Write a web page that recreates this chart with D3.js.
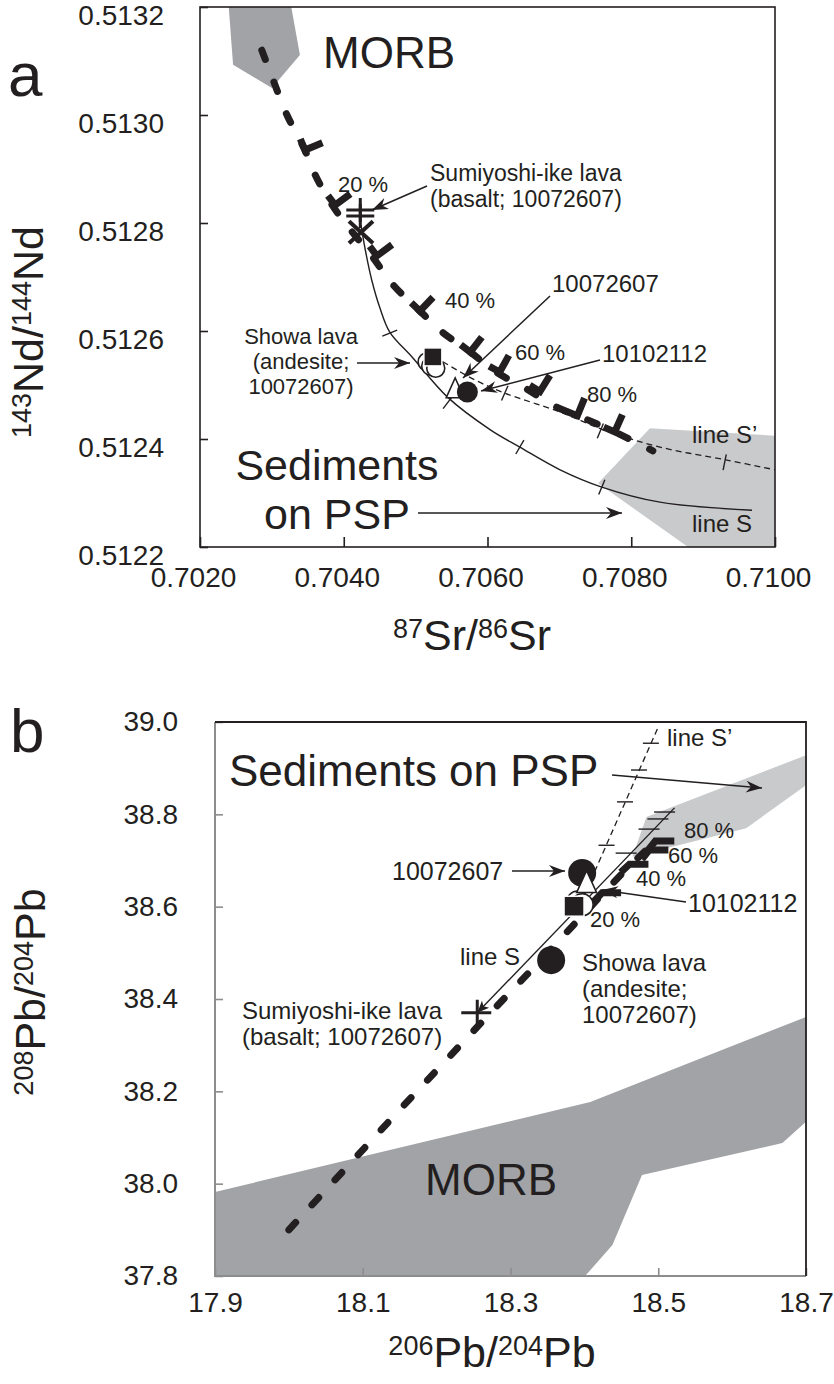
<!DOCTYPE html>
<html>
<head>
<meta charset="utf-8">
<script src="https://cdn.jsdelivr.net/npm/d3@7"></script>
<style>
  body { margin: 0; background: #fff; }
  text { font-family: "Liberation Sans", Arial, sans-serif; fill: #231f20; }
</style>
</head>
<body>
<svg id="fig" width="834" height="1384"></svg>
<script>
// ---------- panel a : 87Sr/86Sr vs 143Nd/144Nd ----------
const srTicks = [0.7020, 0.7040, 0.7060, 0.7080, 0.7100];
const ndTicks = [0.5122, 0.5124, 0.5126, 0.5128, 0.5130, 0.5132];

const morbA = [[0.70240, 0.51320], [0.70327, 0.51320], [0.70339, 0.513111], [0.70300, 0.51305], [0.70246, 0.513093]];
const sedA = [[0.70754, 0.512318], [0.70826, 0.51242], [0.71000, 0.512406], [0.71000, 0.51220], [0.70879, 0.51220]];

// thick dashed mixing curve and its 10 % marks
const heavyA = [[0.70286, 0.513120], [0.70304, 0.513057], [0.70321, 0.513000], [0.70346, 0.512935], [0.70361, 0.512887],
  [0.70384, 0.512833], [0.70412, 0.512783], [0.70439, 0.512739], [0.70469, 0.512685], [0.70503, 0.512641],
  [0.70537, 0.512598], [0.70576, 0.512561], [0.70612, 0.512524], [0.70654, 0.512493], [0.70693, 0.512461],
  [0.70726, 0.512443], [0.70777, 0.512413], [0.70830, 0.512378]];
const markPctA = [10, 20, 30, 40, 50, 60, 70, 80, 90];
const markSrA = [0.70346, 0.70388, 0.70446, 0.70506, 0.70576, 0.70617, 0.70673, 0.70725, 0.70777];
const markNdA = [0.512935, 0.512833, 0.512739, 0.512637, 0.512561, 0.512524, 0.512488, 0.512443, 0.512413];

// line S (solid) and line S' (dashed)
const lineSA = [[0.70424, 0.512796], [0.70430, 0.512750], [0.70439, 0.512694], [0.70450, 0.512644], [0.70464, 0.512598],
  [0.70495, 0.512552], [0.70544, 0.512478], [0.70604, 0.512417], [0.70645, 0.512385], [0.70701, 0.512343],
  [0.70759, 0.512311], [0.70840, 0.512283], [0.70968, 0.512268]];
const lineSTickA = [[0.70464, 0.512596], [0.70545, 0.512468], [0.70645, 0.512385], [0.70759, 0.512311]];
const lineSpA = [[0.70538, 0.512543], [0.70583, 0.512509], [0.70624, 0.512485], [0.70701, 0.512450], [0.70761, 0.512417],
  [0.70840, 0.512385], [0.70933, 0.512361], [0.71000, 0.512343]];
const lineSpTickA = [[0.70624, 0.512485], [0.70757, 0.512415], [0.70930, 0.512357]];

// samples
const sumiPlusA = [[0.70423, 0.512824], [0.70423, 0.512813]];
const sumiCrossA = [[0.70424, 0.512783]];
const showaOpenA = [[0.70516, 0.512543], [0.70521, 0.512535], [0.70528, 0.512531]];
const showaSquareA = [[0.70524, 0.512552]];
const triA = [[0.70555, 0.512491]];
const dotA = [[0.70572, 0.512487]];

// ---------- panel b : 206Pb/204Pb vs 208Pb/204Pb ----------
const pb6Ticks = [17.9, 18.1, 18.3, 18.5, 18.7];
const pb8Ticks = [37.8, 38.0, 38.2, 38.4, 38.6, 38.8, 39.0];

const morbB = [[17.9, 37.982], [18.408, 38.177], [18.611, 38.305], [18.7, 38.361], [18.7, 38.134], [18.668, 38.088],
  [18.478, 38.019], [18.438, 37.867], [18.401, 37.8], [17.9, 37.8]];
const sedB = [[18.484, 38.794], [18.7, 38.928], [18.7, 38.863], [18.619, 38.770], [18.465, 38.708]];

const heavyB = [[18.000, 37.900], [18.150, 38.160], [18.274, 38.372], [18.335, 38.474], [18.426, 38.630],
  [18.462, 38.690], [18.484, 38.723], [18.497, 38.749]];
const markPctB = [20, 40, 60, 80];
const markPb6B = [18.424, 18.461, 18.488, 18.496];
const markPb8B = [38.630, 38.692, 38.723, 38.742];

const lineSB = [[18.255, 38.370], [18.522, 38.814]];
const lineSTickB = [[18.516, 38.805], [18.507, 38.790], [18.495, 38.768], [18.464, 38.716]];
const lineSpB = [[18.403, 38.636], [18.501, 38.993]];
const lineSpTickB = [[18.430, 38.733], [18.455, 38.827], [18.474, 38.896], [18.490, 38.954]];

const sumiPlusB = [[18.255, 38.370]];
const showaDotB = [[18.355, 38.484]];
const dotB = [[18.397, 38.673]];
const openB = [[18.391, 38.610], [18.397, 38.604]];
const squareB = [[18.386, 38.601]];
const triB = [[18.403, 38.650]];

// ---------- drawing ----------
const ink = '#231f20';
const svg = d3.select('#fig');
const defs = svg.append('defs');
defs.append('marker').attr('id', 'head')
  .attr('viewBox', '-17 -7 18 14').attr('markerWidth', 18).attr('markerHeight', 14)
  .attr('markerUnits', 'userSpaceOnUse').attr('refX', 0).attr('refY', 0).attr('orient', 'auto')
  .append('path').attr('d', 'M0,0L-16,-6L-11,0L-16,6Z').attr('fill', ink);
defs.append('marker').attr('id', 'headStart')
  .attr('viewBox', '-17 -7 18 14').attr('markerWidth', 18).attr('markerHeight', 14)
  .attr('markerUnits', 'userSpaceOnUse').attr('refX', 0).attr('refY', 0).attr('orient', 'auto-start-reverse')
  .append('path').attr('d', 'M0,0L-12,-5L-9,0L-12,5Z').attr('fill', ink);

function label(g, x, y, lines, size, anchor, lh) {
  lines.forEach((t, i) => g.append('text').attr('x', x).attr('y', y + i * (lh || size)).attr('font-size', size)
    .attr('text-anchor', anchor || 'start').text(t));
}
function arrow(g, x1, y1, x2, y2) {
  g.append('line').attr('x1', x1).attr('y1', y1).attr('x2', x2).attr('y2', y2)
    .attr('stroke', ink).attr('stroke-width', 1.5).attr('marker-end', 'url(#head)');
}
// axis title with superscript mass numbers
function isoTitle(g, x, y, parts, rot) {
  const t = g.append('text').attr('text-anchor', 'middle').attr('font-size', 43)
    .attr('transform', `translate(${x},${y})` + (rot ? ' rotate(-90)' : ''));
  let up = false;
  parts.forEach(p => {
    const sup = /^\d+$/.test(p);
    const s = t.append('tspan').text(p);
    if (sup) { s.attr('font-size', 27); if (!up) s.attr('dy', -12); up = true; }
    else if (up) { s.attr('dy', 12); up = false; }
  });
}
function tangentAt(pts, p) {
  let best = null, bd = Infinity;
  for (let i = 0; i < pts.length - 1; i++) {
    const a = pts[i], b = pts[i + 1];
    const mx = (a[0] + b[0]) / 2, my = (a[1] + b[1]) / 2;
    const d = (mx - p[0]) ** 2 + (my - p[1]) ** 2;
    if (d < bd) { bd = d; best = [b[0] - a[0], b[1] - a[1]]; }
  }
  const L = Math.hypot(best[0], best[1]);
  return [best[0] / L, best[1] / L];
}
function crossTicks(g, curvePx, tickPx, len, mode) {
  tickPx.forEach(p => {
    let d;
    if (mode === 'h') d = [[p[0] - len, p[1]], [p[0] + 5, p[1]]];
    else if (mode === 'hc') d = [[p[0] - len / 2, p[1]], [p[0] + len / 2, p[1]]];
    else {
      const t = tangentAt(curvePx, p), n = [t[1], -t[0]];
      d = [[p[0] - n[0] * len / 2, p[1] - n[1] * len / 2], [p[0] + n[0] * len / 2, p[1] + n[1] * len / 2]];
    }
    g.append('path').attr('d', d3.line()(d)).attr('stroke', ink).attr('stroke-width', 1.4);
  });
}
function pctMarks(g, curvePx, marksPx, barDir) {
  marksPx.forEach(p => {
    const t = tangentAt(curvePx, p);
    const n = barDir || [t[1], -t[0]];
    g.append('path').attr('d', `M${p[0] - t[0] * 12},${p[1] - t[1] * 12}L${p[0]},${p[1]}L${p[0] + n[0] * 19},${p[1] + n[1] * 19}`)
      .attr('fill', 'none').attr('stroke', ink).attr('stroke-width', 7).attr('stroke-linejoin', 'miter');
  });
}
function styleAxis(g, color, size) {
  g.select('.domain').remove();
  g.selectAll('line').attr('stroke', color).attr('stroke-width', 1.6);
  g.selectAll('text').attr('font-size', size).attr('fill', ink).attr('font-family', null);
}

// ===== panel a =====
const xA = d3.scaleLinear().domain([0.702, 0.710]).range([200, 775]);
const yA = d3.scaleLinear().domain([0.5122, 0.5132]).range([547, 7]);
const lnA = d3.line().x(d => xA(d[0])).y(d => yA(d[1]));
const pxA = d => [xA(d[0]), yA(d[1])];
defs.append('clipPath').attr('id', 'clipA').append('rect').attr('x', 200).attr('y', 7).attr('width', 575).attr('height', 540);

const gA = svg.append('g');
const pA = gA.append('g').attr('clip-path', 'url(#clipA)');
pA.append('path').attr('d', lnA(morbA) + 'Z').attr('fill', '#a2a3a6');
pA.append('path').attr('d', lnA(sedA) + 'Z').attr('fill', '#c9cacc');

const curveA = d3.line().x(d => xA(d[0])).y(d => yA(d[1])).curve(d3.curveCatmullRom);
pA.append('path').attr('d', curveA(lineSA)).attr('fill', 'none').attr('stroke', ink).attr('stroke-width', 1.4);
crossTicks(pA, lineSA.map(pxA), lineSTickA.map(pxA), 16);
pA.append('path').attr('d', curveA(lineSpA)).attr('fill', 'none').attr('stroke', ink).attr('stroke-width', 1.3)
  .attr('stroke-dasharray', '6,4');
crossTicks(pA, lineSpA.map(pxA), lineSpTickA.map(pxA), 16);

pA.append('path').attr('d', curveA(heavyA)).attr('fill', 'none').attr('stroke', ink).attr('stroke-width', 7)
  .attr('stroke-linecap', 'round').attr('stroke-dasharray', '10,24');
pctMarks(pA, heavyA.map(pxA), markPctA.map((p, i) => pxA([markSrA[i], markNdA[i]])));

// samples a
pA.selectAll('.oa').data(showaOpenA).enter().append('circle').attr('cx', d => xA(d[0])).attr('cy', d => yA(d[1]))
  .attr('r', 9).attr('fill', '#fff').attr('stroke', ink).attr('stroke-width', 1.6);
pA.selectAll('.sa').data(showaSquareA).enter().append('rect').attr('x', d => xA(d[0]) - 9).attr('y', d => yA(d[1]) - 9)
  .attr('width', 18).attr('height', 18).attr('fill', ink).attr('stroke', '#fff').attr('stroke-width', 1.5);
pA.selectAll('.ta').data(triA).enter().append('path')
  .attr('d', d => `M${xA(d[0])},${yA(d[1]) - 12}L${xA(d[0]) + 9},${yA(d[1]) + 8}L${xA(d[0]) - 9},${yA(d[1]) + 8}Z`)
  .attr('fill', '#fff').attr('stroke', ink).attr('stroke-width', 1.5);
pA.selectAll('.da').data(dotA).enter().append('circle').attr('cx', d => xA(d[0])).attr('cy', d => yA(d[1]))
  .attr('r', 10.5).attr('fill', ink);
pA.selectAll('.pa').data(sumiPlusA).enter().append('path')
  .attr('d', d => `M${xA(d[0]) - 14},${yA(d[1])}h28M${xA(d[0])},${yA(d[1]) - 12}v24`)
  .attr('stroke', ink).attr('stroke-width', 3);
pA.selectAll('.xa').data(sumiCrossA).enter().append('path')
  .attr('d', d => `M${xA(d[0]) - 12},${yA(d[1]) - 11}l24,22M${xA(d[0]) + 12},${yA(d[1]) - 11}l-24,22`)
  .attr('stroke', ink).attr('stroke-width', 4);

// axes a
gA.append('g').attr('transform', 'translate(200,0)')
  .call(d3.axisLeft(yA).tickValues(ndTicks).tickSize(-8).tickPadding(36).tickFormat(d3.format('.4f')))
  .call(g => { styleAxis(g, ink, 28); g.selectAll('text').attr('dy', '0.64em'); });
gA.append('g').attr('transform', 'translate(0,547)')
  .call(d3.axisBottom(xA).tickValues(srTicks).tickSize(-10).tickPadding(20).tickFormat(d3.format('.4f')))
  .call(g => { styleAxis(g, ink, 28); g.selectAll('text').attr('dx', -7); });
gA.append('rect').attr('x', 200).attr('y', 7).attr('width', 575).attr('height', 540)
  .attr('fill', 'none').attr('stroke', ink).attr('stroke-width', 1.6);

isoTitle(gA, 472, 650, ['87', 'Sr/', '86', 'Sr']);
isoTitle(gA, 43, 332, ['143', 'Nd/', '144', 'Nd'], true);
label(gA, 8, 96, ['a'], 62);

// annotations a
label(gA, 323, 68, ['MORB'], 44);
label(gA, 430, 181, ['Sumiyoshi-ike lava', '(basalt; 10072607)'], 23, 'start', 26);
arrow(gA, 427, 186, 372, 210);
label(gA, 338, 192, ['20 %'], 22);
label(gA, 445, 308, ['40 %'], 22);
label(gA, 515, 360, ['60 %'], 22);
label(gA, 587, 402, ['80 %'], 22);
label(gA, 552, 292, ['10072607'], 24);
arrow(gA, 550, 296, 463, 378);
label(gA, 602, 362, ['10102112'], 24);
arrow(gA, 600, 360, 481, 391);
label(gA, 301, 344, ['Showa lava', '(andesite;', '10072607)'], 22, 'middle', 25);
arrow(gA, 357, 363, 410, 363);
label(gA, 337, 480, ['Sediments', 'on PSP'], 43, 'middle', 49);
arrow(gA, 418, 513, 622, 513);
label(gA, 692, 443, ['line S\u2019'], 24);
label(gA, 692, 532, ['line S'], 24);

// ===== panel b =====
const xB = d3.scaleLinear().domain([17.9, 18.7]).range([215, 806]);
const yB = d3.scaleLinear().domain([37.8, 39.0]).range([1276, 722]);
const lnB = d3.line().x(d => xB(d[0])).y(d => yB(d[1]));
const pxB = d => [xB(d[0]), yB(d[1])];
defs.append('clipPath').attr('id', 'clipB').append('rect').attr('x', 215).attr('y', 722).attr('width', 591).attr('height', 554);

const gB = svg.append('g');
const pB = gB.append('g').attr('clip-path', 'url(#clipB)');
pB.append('path').attr('d', lnB(morbB) + 'Z').attr('fill', '#a2a3a6');
pB.append('path').attr('d', lnB(sedB) + 'Z').attr('fill', '#c9cacc');

pB.append('path').attr('d', lnB(lineSpB)).attr('fill', 'none').attr('stroke', ink).attr('stroke-width', 1.3)
  .attr('stroke-dasharray', '6,4');
crossTicks(pB, lineSpB.map(pxB), lineSpTickB.map(pxB), 16, 'hc');
pB.append('path').attr('d', lnB(lineSB)).attr('fill', 'none').attr('stroke', ink).attr('stroke-width', 1.4)
  .attr('marker-start', 'url(#headStart)');
crossTicks(pB, lineSB.map(pxB), lineSTickB.map(pxB), 16, 'h');

pB.append('path').attr('d', lnB(heavyB)).attr('fill', 'none').attr('stroke', ink).attr('stroke-width', 7)
  .attr('stroke-linecap', 'round').attr('stroke-dasharray', '10,24');
pctMarks(pB, heavyB.map(pxB), markPctB.map((p, i) => pxB([markPb6B[i], markPb8B[i]])), [1, 0]);

// samples b
pB.selectAll('.ob').data(openB).enter().append('circle').attr('cx', d => xB(d[0])).attr('cy', d => yB(d[1]))
  .attr('r', 11).attr('fill', '#fff').attr('stroke', ink).attr('stroke-width', 1.6);
pB.selectAll('.sb').data(squareB).enter().append('rect').attr('x', d => xB(d[0]) - 10).attr('y', d => yB(d[1]) - 10)
  .attr('width', 20).attr('height', 20).attr('fill', ink).attr('stroke', '#fff').attr('stroke-width', 1.5);
pB.selectAll('.db').data(dotB.concat(showaDotB)).enter().append('circle').attr('cx', d => xB(d[0])).attr('cy', d => yB(d[1]))
  .attr('r', 14).attr('fill', ink);
pB.selectAll('.tb').data(triB).enter().append('path')
  .attr('d', d => `M${xB(d[0])},${yB(d[1]) - 13}L${xB(d[0]) + 10},${yB(d[1]) + 9}L${xB(d[0]) - 10},${yB(d[1]) + 9}Z`)
  .attr('fill', '#fff').attr('stroke', ink).attr('stroke-width', 1.5);
pB.selectAll('.pb').data(sumiPlusB).enter().append('path')
  .attr('d', d => `M${xB(d[0]) - 16},${yB(d[1])}h30M${xB(d[0])},${yB(d[1]) - 13}v26`)
  .attr('stroke', ink).attr('stroke-width', 3);

// axes b (left and bottom drawn grey, top and right black)
const grey = '#8d8d8f';
gB.append('g').attr('transform', 'translate(215,0)')
  .call(d3.axisLeft(yB).tickValues(pb8Ticks).tickSize(-8).tickPadding(37).tickFormat(d3.format('.1f')))
  .call(g => styleAxis(g, grey, 28));
gB.append('g').attr('transform', 'translate(0,1276)')
  .call(d3.axisBottom(xB).tickValues(pb6Ticks).tickSize(-8).tickPadding(16).tickFormat(d3.format('.1f')))
  .call(g => styleAxis(g, grey, 28));
gB.append('path').attr('d', 'M215,722V1276H806').attr('fill', 'none').attr('stroke', grey).attr('stroke-width', 2);
gB.append('path').attr('d', 'M215,722H806V1276').attr('fill', 'none').attr('stroke', ink).attr('stroke-width', 1.8);

isoTitle(gB, 492, 1367, ['206', 'Pb/', '204', 'Pb']);
isoTitle(gB, 45, 992, ['208', 'Pb/', '204', 'Pb'], true);
label(gB, 10, 752, ['b'], 62);

// annotations b
label(gB, 229, 786, ['Sediments on PSP'], 44);
arrow(gB, 612, 775, 762, 788);
label(gB, 425, 1195, ['MORB'], 44);
label(gB, 667, 746, ['line S\u2019'], 24);
label(gB, 392, 880, ['10072607'], 25);
arrow(gB, 512, 871, 565, 871);
label(gB, 460, 965, ['line S'], 24);
label(gB, 242, 1019, ['Sumiyoshi-ike lava', '(basalt; 10072607)'], 24, 'start', 26);
label(gB, 582, 971, ['Showa lava', '(andesite;', '10072607)'], 24, 'start', 26);
label(gB, 688, 912, ['10102112'], 25);
arrow(gB, 686, 902, 602, 890);
label(gB, 590, 927, ['20 %'], 22);
label(gB, 636, 886, ['40 %'], 22);
label(gB, 668, 863, ['60 %'], 22);
label(gB, 684, 838, ['80 %'], 22);
</script>
</body>
</html>
